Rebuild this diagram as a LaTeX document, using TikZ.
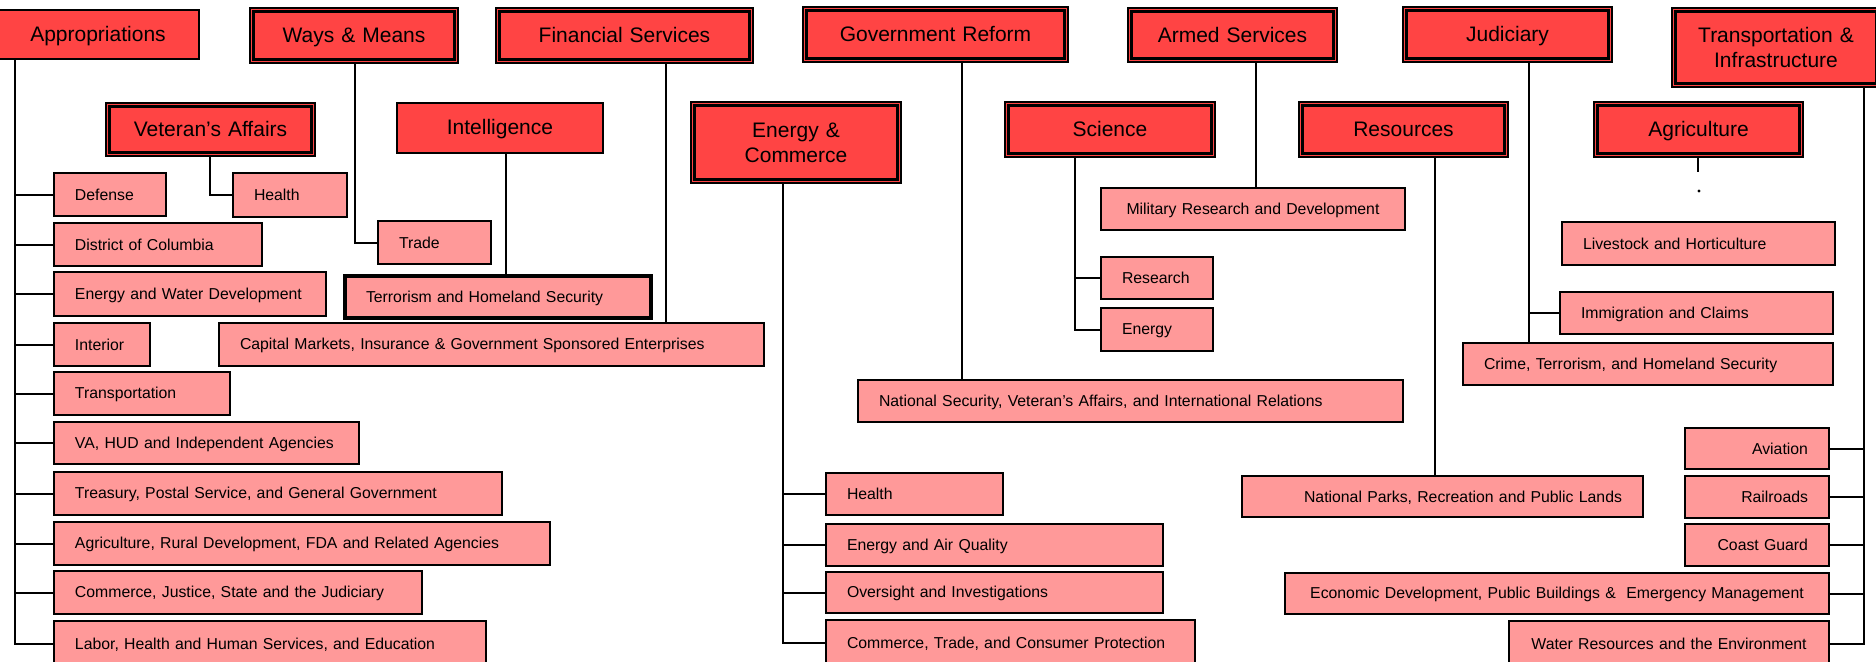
\documentclass[tikz,border=0pt]{standalone}
\usepackage{fontspec}
\setmainfont{Liberation Sans}
\definecolor{topred}{RGB}{255,68,68}
\definecolor{subpink}{RGB}{255,153,153}
\tikzset{
  base/.style={inner xsep=10.5pt, inner ysep=0pt, align=left},
  sub/.style={base, draw=black, fill=subpink, line width=1pt, font=\fontsize{7.9}{9.5}\selectfont},
  subthick/.style={sub, line width=1.6pt},
  subr/.style={sub, align=right},
  subc/.style={sub, align=center},
  topsingle/.style={base, draw=black, fill=topred, line width=1.4pt, align=center, font=\fontsize{10.5}{12.6}\selectfont},
  topouter/.style={base, draw=black, fill=topred, line width=0.75pt, align=center, font=\fontsize{10.5}{12.6}\selectfont},
  conn/.style={draw=black, line width=1pt},
}
\newcommand{\mkstrut}{\rule[-0.15em]{0pt}{1em}}
\newcommand{\mkbox}[7]{%
  \pgfmathsetmacro{\mkbw}{(#5-#3)/2}%
  \pgfmathsetmacro{\mkbh}{(#6-#4)/2}%
  \pgfmathsetmacro{\mktw}{\mkbw-21}%
  \node[#1, minimum width=\mkbw pt, minimum height=\mkbh pt, text width=\mktw pt] (#2) at ({(#3+#5)/2},{(#4+#6)/2}) {\mkstrut#7\mkstrut};%
}
\newcommand{\mkdbl}[1]{\draw[line width=1.3pt] ([shift={(4,4)}]#1.north west) rectangle ([shift={(-4,-4)}]#1.south east);}
\begin{document}
\begin{tikzpicture}[x=0.5pt, y=-0.5pt]
\useasboundingbox (0,0) rectangle (1876,661);
% top row
\mkbox{topsingle}{app}{-3}{10}{199}{59}{Appropriations}
\mkbox{topouter}{wm}{250}{8}{458}{63}{Ways \& Means}\mkdbl{wm}
\mkbox{topouter}{fs}{496}{8}{753}{63}{Financial Services}\mkdbl{fs}
\mkbox{topouter}{gr}{803}{7}{1068}{62}{Government Reform}\mkdbl{gr}
\mkbox{topouter}{as}{1128}{8}{1337}{62}{Armed Services}\mkdbl{as}
\mkbox{topouter}{jud}{1403}{7}{1612}{62}{Judiciary}\mkdbl{jud}
\mkbox{topouter}{ti}{1672}{8}{1880}{87}{Transportation \&\\Infrastructure}\mkdbl{ti}
% second row
\mkbox{topouter}{va}{106}{103}{315}{156}{Veteran’s Affairs}\mkdbl{va}
\mkbox{topsingle}{intel}{397}{103}{603}{153}{Intelligence}
\mkbox{topouter}{ec}{691}{102}{901}{183}{Energy \&\\Commerce}\mkdbl{ec}
\mkbox{topouter}{sci}{1005}{102}{1215}{157}{Science}\mkdbl{sci}
\mkbox{topouter}{res}{1299}{102}{1508}{157}{Resources}\mkdbl{res}
\mkbox{topouter}{ag}{1594}{102}{1803}{157}{Agriculture}\mkdbl{ag}
% appropriations subcommittees
\mkbox{sub}{def}{54}{173}{166}{216}{Defense}
\mkbox{sub}{dc}{54}{223}{262}{266}{District of Columbia}
\mkbox{sub}{ewd}{54}{272}{326}{316}{Energy and Water Development}
\mkbox{sub}{int}{54}{323}{150}{366}{Interior}
\mkbox{sub}{trn}{54}{372}{230}{415}{Transportation}
\mkbox{sub}{vahud}{54}{422}{359}{464}{VA, HUD and Independent Agencies}
\mkbox{sub}{tre}{54}{472}{502}{515}{Treasury, Postal Service, and General Government}
\mkbox{sub}{agr}{54}{522}{550}{565}{Agriculture, Rural Development, FDA and Related Agencies}
\mkbox{sub}{cjs}{54}{571}{422}{614}{Commerce, Justice, State and the Judiciary}
\mkbox{sub}{lab}{54}{621}{486}{666}{Labor, Health and Human Services, and Education}
% others
\mkbox{sub}{vh}{233}{173}{347}{217}{Health}
\mkbox{sub}{trade}{378}{221}{491}{264}{Trade}
\mkbox{subthick}{terr}{345}{276}{651}{318}{Terrorism and Homeland Security}
\mkbox{sub}{cap}{219}{323}{764}{366}{Capital Markets, Insurance \& Government Sponsored Enterprises}
\mkbox{subc}{milrd}{1101}{188}{1405}{230}{Military Research and Development}
\mkbox{sub}{research}{1101}{257}{1213}{299}{Research}
\mkbox{sub}{energy}{1101}{308}{1213}{351}{Energy}
\mkbox{sub}{natsec}{858}{380}{1403}{422}{National Security, Veteran’s Affairs, and International Relations}
\mkbox{sub}{echealth}{826}{473}{1003}{515}{Health}
\mkbox{sub}{eaq}{826}{524}{1163}{566}{Energy and Air Quality}
\mkbox{sub}{oi}{826}{572}{1163}{613}{Oversight and Investigations}
\mkbox{sub}{ctcp}{826}{620}{1195}{666}{Commerce, Trade, and Consumer Protection}
\mkbox{subr}{natparks}{1242}{476}{1643}{517}{National Parks, Recreation and Public Lands}
\mkbox{sub}{live}{1562}{222}{1835}{265}{Livestock and Horticulture}
\mkbox{sub}{imm}{1560}{292}{1833}{334}{Immigration and Claims}
\mkbox{sub}{crime}{1463}{343}{1833}{385}{Crime, Terrorism, and Homeland Security}
\mkbox{subr}{avi}{1685}{428}{1829}{469}{Aviation}
\mkbox{subr}{rail}{1685}{476}{1829}{518}{Railroads}
\mkbox{subr}{cg}{1685}{524}{1829}{566}{Coast Guard}
\mkbox{subc}{econ}{1285}{573}{1829}{614}{Economic Development, Public Buildings \&\ \ Emergency Management}
\mkbox{subc}{water}{1509}{621}{1829}{666}{Water Resources and the Environment}
% trunk positions
\coordinate (xa) at (15,0);
\coordinate (xva) at (210,0);
\coordinate (xwm) at (355,0);
\coordinate (xint) at (506,0);
\coordinate (xfs) at (666,0);
\coordinate (xec) at (783,0);
\coordinate (xgr) at (962,0);
\coordinate (xsci) at (1075,0);
\coordinate (xas) at (1256,0);
\coordinate (xres) at (1435,0);
\coordinate (xjud) at (1529,0);
\coordinate (xag) at (1698,0);
\coordinate (xti) at (1864,0);
\coordinate (agend) at (1698,172);
\coordinate (agdot) at (1699,191);
% connectors
\draw[conn] (app.south -| xa) |- (lab.west);
\foreach \c in {def,dc,ewd,int,trn,vahud,tre,agr,cjs}{\draw[conn] (xa |- \c.west) -- (\c.west);}
\draw[conn] (va.south -| xva) |- (vh.west);
\draw[conn] (wm.south -| xwm) |- (trade.west);
\draw[conn] (intel.south -| xint) -- (xint |- terr.north);
\draw[conn] (fs.south -| xfs) -- (xfs |- cap.north);
\draw[conn] (ec.south -| xec) |- (ctcp.west);
\foreach \c in {echealth,eaq,oi}{\draw[conn] (xec |- \c.west) -- (\c.west);}
\draw[conn] (gr.south -| xgr) -- (xgr |- natsec.north);
\draw[conn] (sci.south -| xsci) |- (energy.west);
\draw[conn] (xsci |- research.west) -- (research.west);
\draw[conn] (as.south -| xas) -- (xas |- milrd.north);
\draw[conn] (res.south -| xres) -- (xres |- natparks.north);
\draw[conn] (jud.south -| xjud) -- (xjud |- crime.north);
\draw[conn] (xjud |- imm.west) -- (imm.west);
\draw[conn] (ag.south -| xag) -- (agend);
\fill (agdot) circle[radius=0.8pt];
\draw[conn] (ti.south -| xti) |- (water.east);
\foreach \c in {avi,rail,cg,econ}{\draw[conn] (xti |- \c.east) -- (\c.east);}
\end{tikzpicture}
\end{document}
